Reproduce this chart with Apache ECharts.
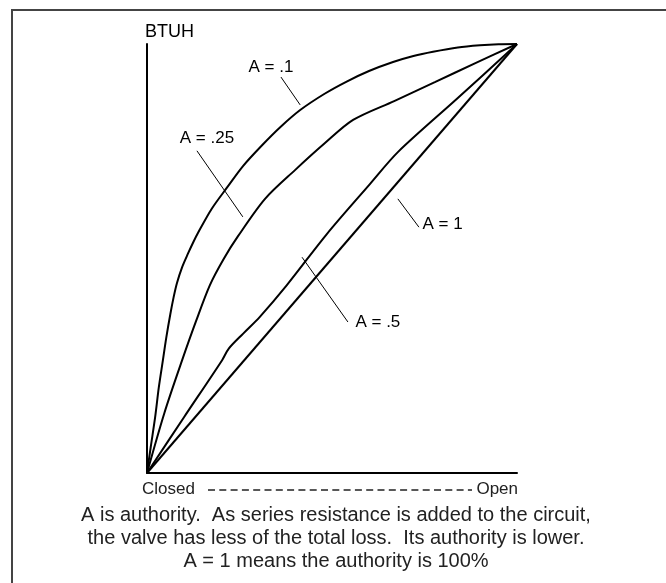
<!DOCTYPE html>
<html>
<head>
<meta charset="utf-8">
<script src="https://cdn.jsdelivr.net/npm/echarts@6/dist/echarts.min.js"></script>
<style>
  html, body { margin: 0; padding: 0; background: #fff; }
  #chart { width: 666px; height: 583px; }
</style>
</head>
<body>
<div id="chart"></div>
<script>
// valve stroke (% open) vs heat output (% BTUH), one array per authority
const curveA01 = [[0, 0], [1, 6], [2.2, 13], [3.2, 20], [4.3, 26.3], [5.2, 31.5], [6.3, 37], [7.2, 41], [8.1, 44.3],
  [9.5, 48], [11, 51], [12.5, 53.8], [13.8, 56], [17.5, 61.6], [21.6, 66.5], [26, 71.6], [31.1, 76.4], [36, 80.6],
  [41.4, 84.6], [48, 88.4], [54.1, 91.3], [60, 93.7], [66.5, 95.8], [72, 97.2], [77.3, 98.2], [84, 99.2], [90, 99.7],
  [95, 99.94], [100, 100]]
const curveA025 = [[0, 0], [4.7, 14], [9.5, 26.3], [13.3, 35.5], [17, 43.8], [20.8, 50], [24.6, 55.2], [31.9, 63.9],
  [40, 70.6], [48.1, 76.9], [55.7, 82.3], [66.8, 86.7], [77.8, 91.1], [88.9, 95.6], [100, 100]]
const curveA05 = [[0, 0], [10, 13], [20.3, 26.3], [22.1, 29], [26, 32.5], [30.5, 36.4], [37.8, 43.8], [48.6, 55.7],
  [60.3, 67.4], [67.8, 74.8], [84, 87.4], [100, 100]]
const curveA1 = [[0, 0], [100, 100]]

const labelNames = ['A = .1', 'A = .25', 'A = .5', 'A = 1']
// label centres and leader lines, in data units
const labelAt = [[33.5, 94.6], [16.2, 77.9], [62.4, 35.2], [79.9, 58.0]]
const leaders = [
  [[36.2, 92.3], [41.4, 85.8]],
  [[13.5, 75.1], [25.9, 59.7]],
  [[41.9, 50.3], [54.3, 35.2]],
  [[67.8, 63.9], [73.5, 57.3]]
]
const captionLines = [
  'A is authority.  As series resistance is added to the circuit,',
  'the valve has less of the total loss.  Its authority is lower.',
  'A = 1 means the authority is 100%'
]

const font = 'Liberation Sans, Arial, sans-serif'

function makeSeries(data, i) {
  return {
    type: 'line',
    data: data,
    smooth: 0.3,
    showSymbol: false,
    lineStyle: { color: '#000', width: 2 },
    markLine: {
      silent: true,
      symbol: ['none', 'none'],
      lineStyle: { color: '#000', width: 1, type: 'solid' },
      label: { show: false },
      data: [[{ coord: leaders[i][0] }, { coord: leaders[i][1] }]]
    },
    markPoint: {
      silent: true,
      symbol: 'circle',
      symbolSize: 1,
      itemStyle: { color: 'rgba(0,0,0,0)' },
      label: {
        show: true,
        position: 'inside',
        color: '#000',
        fontSize: 17,
        fontFamily: font,
        formatter: labelNames[i]
      },
      data: [{ coord: labelAt[i] }]
    }
  }
}

const chart = echarts.init(document.getElementById('chart'))
chart.setOption({
  animation: false,
  grid: { left: 147, right: 149, top: 44, bottom: 110 },
  xAxis: {
    type: 'value',
    min: 0,
    max: 100,
    axisLine: { show: true, lineStyle: { color: '#000', width: 2 } },
    axisTick: { show: false },
    axisLabel: { show: false },
    splitLine: { show: false }
  },
  yAxis: {
    type: 'value',
    min: 0,
    max: 100,
    name: 'BTUH',
    nameLocation: 'end',
    nameGap: 3,
    nameTextStyle: { color: '#000', fontSize: 18, fontFamily: font, align: 'left', padding: [0, 0, 0, -2] },
    axisLine: { show: true, lineStyle: { color: '#000', width: 2 } },
    axisTick: { show: false },
    axisLabel: { show: false },
    splitLine: { show: false }
  },
  series: [curveA01, curveA025, curveA05, curveA1].map(makeSeries),
  graphic: [
    {
      type: 'rect',
      shape: { x: 12, y: 10, width: 700, height: 620 },
      style: { fill: 'none', stroke: '#444', lineWidth: 2 },
      silent: true
    },
    {
      type: 'text',
      left: 142,
      top: 481,
      style: { text: 'Closed', fill: '#222', font: '17px ' + font }
    },
    {
      type: 'line',
      shape: { x1: 208, y1: 490, x2: 472, y2: 490 },
      style: { stroke: '#222', lineWidth: 1.5, lineDash: [7, 4.3] }
    },
    {
      type: 'text',
      right: 148,
      top: 481,
      style: { text: 'Open', fill: '#222', font: '17px ' + font }
    },
    ...captionLines.map((t, k) => ({
      type: 'text',
      x: 336,
      y: 515 + k * 23,
      style: { text: t, fill: '#222', font: '20px ' + font, textAlign: 'center', textVerticalAlign: 'middle' }
    }))
  ]
})
</script>
</body>
</html>
